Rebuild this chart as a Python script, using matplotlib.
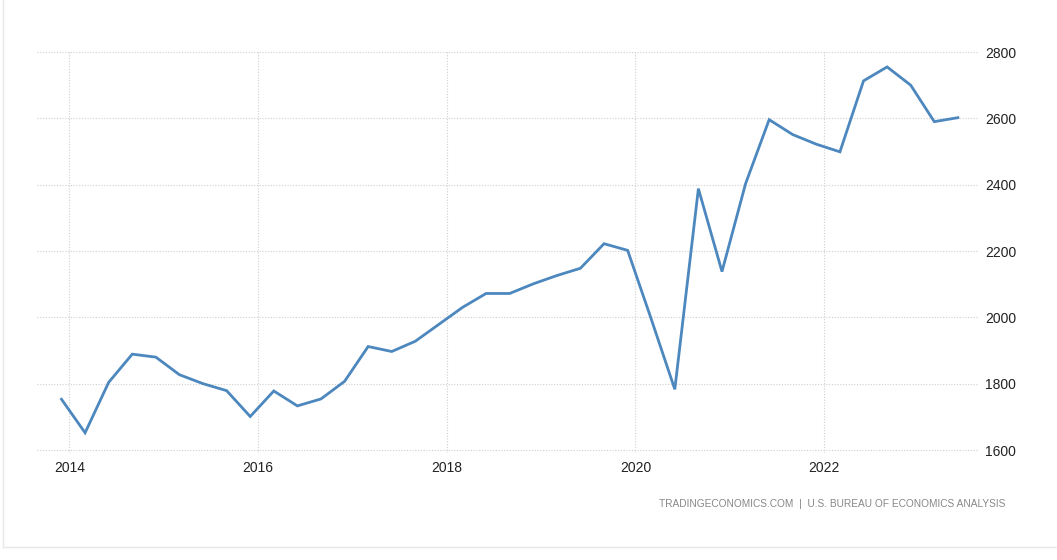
import matplotlib
matplotlib.use("Agg")
import matplotlib.pyplot as plt
from matplotlib.lines import Line2D

years = [2013] + [y for y in range(2014, 2023) for _ in range(4)] + [2023, 2023]
quarters = [4] + [1, 2, 3, 4] * 9 + [1, 2]
values = [1753,
          1652, 1804, 1889, 1880,
          1827, 1800, 1779, 1701,
          1778, 1733, 1754, 1807,
          1912, 1897, 1928, 1979,
          2030, 2072, 2072, 2101,
          2126, 2148, 2222, 2202,
          1995, 1783, 2388, 2138,
          2403, 2596, 2551, 2522,
          2499, 2713, 2755, 2700,
          2590, 2602]
x_ticks = [2014, 2016, 2018, 2020, 2022]
y_ticks = [1600, 1800, 2000, 2200, 2400, 2600, 2800]
source = "TRADINGECONOMICS.COM  |  U.S. BUREAU OF ECONOMICS ANALYSIS"

xs = [y + (q * 3 - 1) / 12 for y, q in zip(years, quarters)]

plt.rcParams['font.family'] = ['Liberation Sans', 'DejaVu Sans']

fig = plt.figure(figsize=(10.57, 5.6), dpi=100)
ax = fig.add_axes([37 / 1057, 107 / 560, 941 / 1057, 401 / 560])

ax.plot(xs, values, color='#4c87be', linewidth=2.0, solid_joinstyle='miter')

ax.set_xlim(2013.657, 2023.63)
ax.set_ylim(1591, 2800)
ax.set_xticks(x_ticks)
ax.set_xticklabels([str(t) for t in x_ticks])
ax.set_yticks(y_ticks)
ax.yaxis.tick_right()
ax.tick_params(axis='both', length=0, labelsize=10, colors='#222222')
ax.tick_params(axis='y', pad=5)
ax.tick_params(axis='x', pad=6)
for s in ax.spines.values():
    s.set_visible(False)
ax.grid(True, color='#cfcfcf', linestyle=(0, (1, 1.5)), linewidth=0.8)
ax.set_axisbelow(True)

fig.text(1005 / 1057, 1 - 504 / 560, source, ha='right', va='center',
         fontsize=7.3, color='#888888')

# faint frame
fig.add_artist(Line2D([3 / 1057, 3 / 1057], [1 - 547 / 560, 1], color='#e8e8e8',
                      linewidth=1, transform=fig.transFigure))
fig.add_artist(Line2D([3 / 1057, 1], [1 - 547 / 560, 1 - 547 / 560], color='#e8e8e8',
                      linewidth=1, transform=fig.transFigure))

fig.savefig("out.png", dpi=100, facecolor='white')
